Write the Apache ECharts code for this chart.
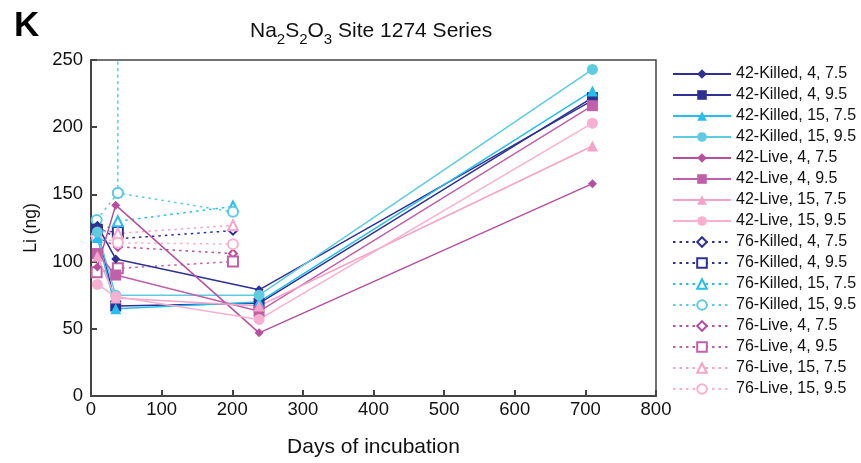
<!DOCTYPE html>
<html>
<head>
<meta charset="utf-8">
<script src="https://cdn.jsdelivr.net/npm/echarts@6/dist/echarts.min.js"></script>
<style>html,body{margin:0;padding:0;background:#fff;}#c{width:861px;height:463px;}</style>
</head>
<body>
<div id="c"></div>
<script>
// ---- data ----
const seriesNames = [
  '42-Killed, 4, 7.5','42-Killed, 4, 9.5','42-Killed, 15, 7.5','42-Killed, 15, 9.5',
  '42-Live, 4, 7.5','42-Live, 4, 9.5','42-Live, 15, 7.5','42-Live, 15, 9.5',
  '76-Killed, 4, 7.5','76-Killed, 4, 9.5','76-Killed, 15, 7.5','76-Killed, 15, 9.5',
  '76-Live, 4, 7.5','76-Live, 4, 9.5','76-Live, 15, 7.5','76-Live, 15, 9.5'
];
const days42 = [9, 35, 238, 710];
const days76 = [8, 38, 201];
const k42_4_75  = [127, 102, 79, 220];
const k42_4_95  = [124, 67, 69, 222];
const k42_15_75 = [118, 65, 70, 227];
const k42_15_95 = [122, 75, 75, 243];
const l42_4_75  = [96, 142, 47, 158];
const l42_4_95  = [106, 90, 63, 216];
const l42_15_75 = [104, 73, 67, 186];
const l42_15_95 = [83, 74, 57, 203];
const k76_4_75  = [126, 117, 123];
const k76_4_95  = [123, 122];
const k76_15_75 = [120, 130, 141];
const k76_15_95 = [131, 151, 137];
const k76_15_95_spikeDay = 38;     // off-scale replicate at day 38
const k76_15_95_spikeValue = 400;
const l76_4_75  = [118, 111, 106];
const l76_4_95  = [92, 95, 100];
const l76_15_75 = [123, 121, 127];
const l76_15_95 = [119, 114, 113];
const xTicks = [0,100,200,300,400,500,600,700,800];
const yTicks = [0,50,100,150,200,250];

// ---- styles ----
const colors = ['#2e3192','#2e3192','#27bdec','#5ecbe0','#b64f9e','#c060a8','#f5a3c8','#f7b0d0'];
const symbols42 = ['diamond','rect','triangle','circle','diamond','rect','triangle','circle'];
const symbols76 = ['emptyDiamond','emptyRect','emptyTriangle','emptyCircle','emptyDiamond','emptyRect','emptyTriangle','emptyCircle'];
const sizes = [9, 11, 11, 11, 9, 11, 11, 11];

const vals42 = [k42_4_75,k42_4_95,k42_15_75,k42_15_95,l42_4_75,l42_4_95,l42_15_75,l42_15_95];
const vals76 = [k76_4_75,k76_4_95,k76_15_75,k76_15_95,l76_4_75,l76_4_95,l76_15_75,l76_15_95];

function pairs(days, vals){ return vals.map((v,i)=>[days[i], v]); }

const series = [];
vals42.forEach((v,i)=>{
  series.push({
    name: seriesNames[i], type:'line', data: pairs(days42, v),
    symbol: symbols42[i], symbolSize: sizes[i],
    lineStyle:{color:colors[i], width:1.5, type:'solid'},
    itemStyle:{color:colors[i]},
    clip:true, z: 3
  });
});
vals76.forEach((v,i)=>{
  let d = pairs(days76, v);
  if (i === 3) {
    // 76-Killed 15, 9.5: off-scale value at day 38 (drawn as vertical clipped line)
    d = [d[0], d[1], [k76_15_95_spikeDay, k76_15_95_spikeValue], d[1], d[2]];
  }
  series.push({
    name: seriesNames[8+i], type:'line', data: d,
    symbol: symbols76[i], symbolSize: sizes[i]-1,
    lineStyle:{color:colors[i], width:1.5, type:[2.5,4]},
    itemStyle:{color:colors[i], borderWidth:1.3},
    clip:true, z: 2
  });
});

const FONT = 'Liberation Sans, Arial, sans-serif';
const chart = echarts.init(document.getElementById('c'), null, {renderer:'canvas'});
chart.setOption({
  animation:false,
  backgroundColor:'#fff',
  title:[
    {text:'K', left:9, top:4, textStyle:{fontFamily:FONT, fontSize:35, fontWeight:'bold', color:'#000'}},
    {text:'{n|Na}{s|2}{n|S}{s|2}{n|O}{s|3}{n| Site 1274 Series}', left:245, top:16,
     textStyle:{fontWeight:'normal', rich:{
       n:{fontFamily:FONT, fontSize:21, fontWeight:'normal', color:'#111', lineHeight:25, verticalAlign:'top'},
       s:{fontFamily:FONT, fontSize:15, fontWeight:'normal', color:'#111', padding:[11,0,0,0], verticalAlign:'top'}
     }}}
  ],
  grid:{left:91, right:205, top:60, bottom:62, show:true, borderColor:'#444', borderWidth:1.5, backgroundColor:'transparent'},
  xAxis:{
    type:'value', min:xTicks[0], max:xTicks[xTicks.length-1], interval:100,
    name:'Days of incubation', nameLocation:'middle', nameGap:41,
    nameTextStyle:{fontFamily:FONT, fontSize:21, color:'#111'},
    axisLine:{show:true, lineStyle:{color:'#444', width:2}},
    axisTick:{show:true, inside:true, length:6, lineStyle:{color:'#444', width:2}},
    axisLabel:{fontFamily:FONT, fontSize:18.5, color:'#111', margin:4},
    splitLine:{show:false}
  },
  yAxis:{
    type:'value', min:yTicks[0], max:yTicks[yTicks.length-1], interval:50,
    name:'Li (ng)', nameLocation:'middle', nameGap:51, nameRotate:90,
    nameTextStyle:{fontFamily:FONT, fontSize:17.5, color:'#111'},
    axisLine:{show:true, lineStyle:{color:'#444', width:2}},
    axisTick:{show:true, inside:true, length:6, lineStyle:{color:'#444', width:2}},
    axisLabel:{fontFamily:FONT, fontSize:18.5, color:'#111', margin:8},
    splitLine:{show:false}
  },
  legend:{
    orient:'vertical', left:667, top:61, itemWidth:58, itemHeight:12, itemGap:5,
    data: seriesNames,
    textStyle:{fontFamily:FONT, fontSize:16, color:'#111'},
    selectedMode:false
  },
  series: series
});
</script>
</body>
</html>
